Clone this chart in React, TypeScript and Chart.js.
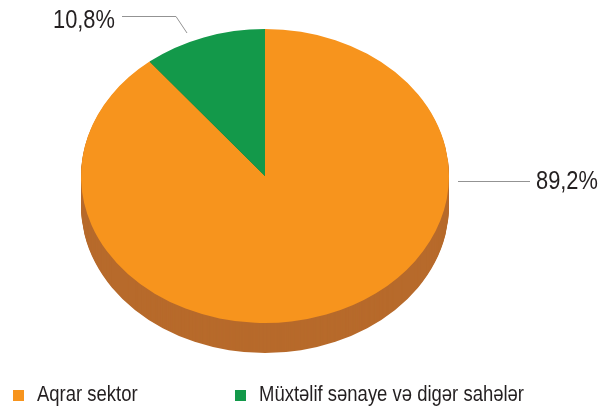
import React, { useEffect, useRef } from 'react';
import { Chart, registerables } from 'chart.js';

Chart.register(...registerables);

const categories = ['Aqrar sektor', 'Müxtəlif sənaye və digər sahələr'];
const shares = [89.2, 10.8];
const valueLabels = ['89,2%', '10,8%'];
const topColors = ['#f7941d', '#13994a'];
const sideColors = ['#b76a2b', '#0c6a32'];

const FONT = '"Liberation Sans", Arial, sans-serif';
const NARROW = 0.84;
const TILT = 147 / 184;
const DEPTH = 30;
const CENTER_Y = 176;

function narrowText(ctx: CanvasRenderingContext2D, text: string, x: number, y: number) {
  ctx.save();
  ctx.translate(x, y);
  ctx.scale(NARROW, 1);
  ctx.fillText(text, 0, 0);
  ctx.restore();
}

const pie3d = {
  id: 'pie3d',
  beforeDatasetsDraw(chart: any) {
    const ctx = chart.ctx;
    const meta = chart.getDatasetMeta(0);
    const arcs = meta.data;
    if (!arcs.length) return;
    const cx = arcs[0].x;
    const cyChart = arcs[0].y;
    arcs.forEach((arc: any, i: number) => {
      const p = arc.getProps(['startAngle', 'endAngle', 'outerRadius'], true);
      ctx.save();
      ctx.fillStyle = sideColors[i];
      for (let d = DEPTH; d >= 1; d--) {
        ctx.save();
        ctx.translate(cx, CENTER_Y + d);
        ctx.scale(1, TILT);
        ctx.beginPath();
        ctx.moveTo(0, 0);
        ctx.arc(0, 0, p.outerRadius, p.startAngle, p.endAngle);
        ctx.closePath();
        ctx.fill();
        ctx.restore();
      }
      ctx.restore();
    });
    ctx.save();
    ctx.translate(cx, CENTER_Y);
    ctx.scale(1, TILT);
    ctx.translate(-cx, -cyChart);
  },
  afterDatasetsDraw(chart: any) {
    chart.ctx.restore();
  },
  afterDraw(chart: any) {
    const ctx = chart.ctx;
    ctx.save();
    ctx.strokeStyle = '#939393';
    ctx.lineWidth = 1;
    ctx.beginPath();
    ctx.moveTo(458, 181.5);
    ctx.lineTo(530, 181.5);
    ctx.stroke();
    ctx.beginPath();
    ctx.moveTo(122, 16.5);
    ctx.lineTo(176, 16.5);
    ctx.lineTo(187, 33);
    ctx.stroke();
    ctx.fillStyle = '#231f20';
    ctx.font = '26px ' + FONT;
    ctx.textBaseline = 'alphabetic';
    ctx.textAlign = 'left';
    narrowText(ctx, valueLabels[0], 536, 189);
    narrowText(ctx, valueLabels[1], 53, 28);
    const legendX = [13, 235];
    ctx.font = '22px ' + FONT;
    categories.forEach((c, i) => {
      ctx.fillStyle = topColors[i];
      ctx.fillRect(legendX[i], 390, 11, 11);
      ctx.fillStyle = '#231f20';
      narrowText(ctx, c, legendX[i] + 24, 401);
    });
    ctx.restore();
  },
};

export default function App() {
  const ref = useRef<HTMLCanvasElement>(null);
  useEffect(() => {
    if (!ref.current) return;
    const chart = new Chart(ref.current, {
      type: 'pie',
      data: {
        labels: categories,
        datasets: [
          {
            data: shares,
            backgroundColor: topColors,
            borderWidth: 0,
            clip: false as any,
          },
        ],
      },
      options: {
        responsive: false,
        animation: false,
        rotation: 0,
        layout: { padding: { left: 81, right: 154, top: 20, bottom: 20 } },
        plugins: {
          legend: { display: false },
          tooltip: { enabled: false },
        },
      },
      plugins: [pie3d],
    });
    return () => chart.destroy();
  }, []);
  return (
    <div style={{ position: 'absolute', left: 0, top: 0, width: 603, height: 408, background: '#fff' }}>
      <canvas ref={ref} width={603} height={408} style={{ display: 'block' }} />
    </div>
  );
}
